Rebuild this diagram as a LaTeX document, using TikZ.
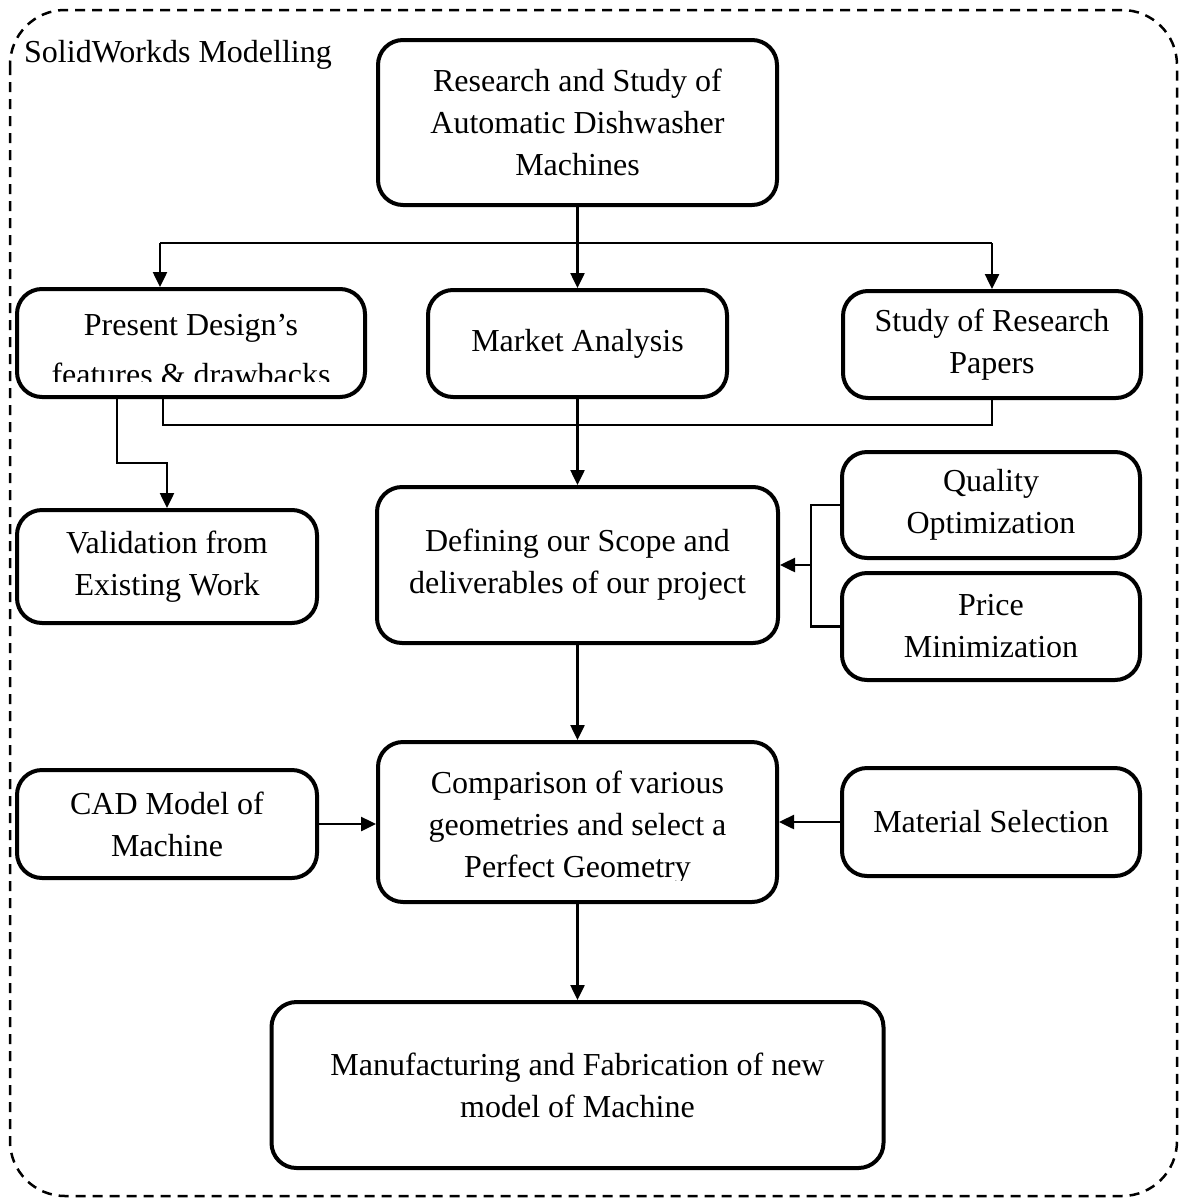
\documentclass[tikz,border=0pt]{standalone}
\usepackage{fontspec}
\setmainfont{Liberation Serif}
\usetikzlibrary{arrows.meta, calc, positioning}

\tikzset{
  block/.style={draw, line width=4pt, rounded corners=25pt, align=center, inner sep=0pt,
    font=\fontsize{32}{42}\selectfont},
  label/.style={align=center, inner sep=0pt},
  link/.style={line width=2.5pt},
  arrow/.style={link, -{Triangle[length=15pt, width=14pt]}},
}

\begin{document}
\begin{tikzpicture}[x=1pt, y=-1pt]
                \useasboundingbox (0,0) rectangle (1180,1200);

                % dashed frame
                \draw[line width=2.5pt, dash pattern=on 10pt off 7pt, rounded corners=55pt] (10,10) rectangle (1177,1196);
                \node[anchor=base west, inner sep=0pt, font=\fontsize{32}{42}\selectfont] (frame) at (24,62) {SolidWorkds Modelling};

                % top row
                \node[block, minimum width=399pt, minimum height=165pt] (research) at (577.5,122.5) {Research and Study of\\Automatic Dishwasher\\Machines};
                \node[block, minimum width=348pt, minimum height=108pt] (present) at (191,343) {};
                \node[block, minimum width=299pt, minimum height=107pt] (market) at (577.5,343.5) {Market Analysis};
                \node[block, minimum width=298pt, minimum height=107pt] (study) at (992,344.5) {Study of Research\\Papers};

                % text of present design, cut at the bottom
                \begin{scope}
                \clip (present.north west) rectangle (present.east |- 0,381);
                \node[label, font=\fontsize{32}{50}\selectfont] (presenttext) at (191,350) {Present Design’s\\features \& drawbacks};
                \end{scope}

                % middle row
                \node[block, minimum width=300pt, minimum height=113pt] (validation) at (167,566.5) {Validation from\\Existing Work};
                \node[block, minimum width=401pt, minimum height=156pt] (defining) at (577.5,565) {Defining our Scope and\\deliverables of our project};
                \node[block, minimum width=298pt, minimum height=106pt] (quality) at (991,505) {Quality\\Optimization};
                \node[block, minimum width=298pt, minimum height=107pt] (price) at (991,626.5) {Price\\Minimization};

                % lower row
                \node[block, minimum width=300pt, minimum height=108pt] (cad) at (167,824) {CAD Model of\\Machine};
                \node[block, minimum width=399pt, minimum height=160pt] (comparison) at (577.5,822) {};
                \node[block, minimum width=298pt, minimum height=108pt] (material) at (991,822) {Material Selection};

                \begin{scope}
                \clip (comparison.north west) rectangle (comparison.east |- 0,880);
                \node[label, font=\fontsize{32}{42}\selectfont] (comparisontext) at (577.5,828) {Comparison of various\\geometries and select a\\Perfect Geometry};
                \end{scope}

                \node[block, minimum width=612pt, minimum height=166pt] (manufacturing) at (577.5,1085) {Manufacturing and Fabrication of new\\model of Machine};

                % split from research
                \coordinate (split) at (577.5,243);
                \coordinate (splitL) at (160,243);
                \coordinate (splitR) at (992,243);
                \draw[link] (research) -- (split);
                \draw[link] (splitL) -- (splitR);
                \draw[arrow] (splitL) -- (splitL |- present.north);
                \draw[arrow] (split) -- (market);
                \draw[arrow] (splitR) -- (study);

                % merge into defining
                \coordinate (mergeL) at (163,425);
                \coordinate (mergeR) at (992,425);
                \draw[link] (mergeL |- present.south) -- (mergeL) -- (mergeR) -- (study.south);
                \draw[arrow] (market) -- (defining);

                % present design to validation
                \coordinate (bend) at (117,463);
                \draw[arrow] (bend |- present.south) -- (bend) -| (validation.north);

                % quality and price
                \coordinate (joint) at (811,565);
                \draw[link] (quality.west) -| (joint);
                \draw[link] (price.west) -| (joint);
                \draw[arrow] (joint) -- (defining.east);

                % down the middle
                \draw[arrow] (defining) -- (comparison);
                \draw[arrow] (cad) -- (cad -| comparison.west);
                \draw[arrow] (material) -- (material -| comparison.east);
                \draw[arrow] (comparison) -- (manufacturing);

            \end{tikzpicture}
\end{document}
